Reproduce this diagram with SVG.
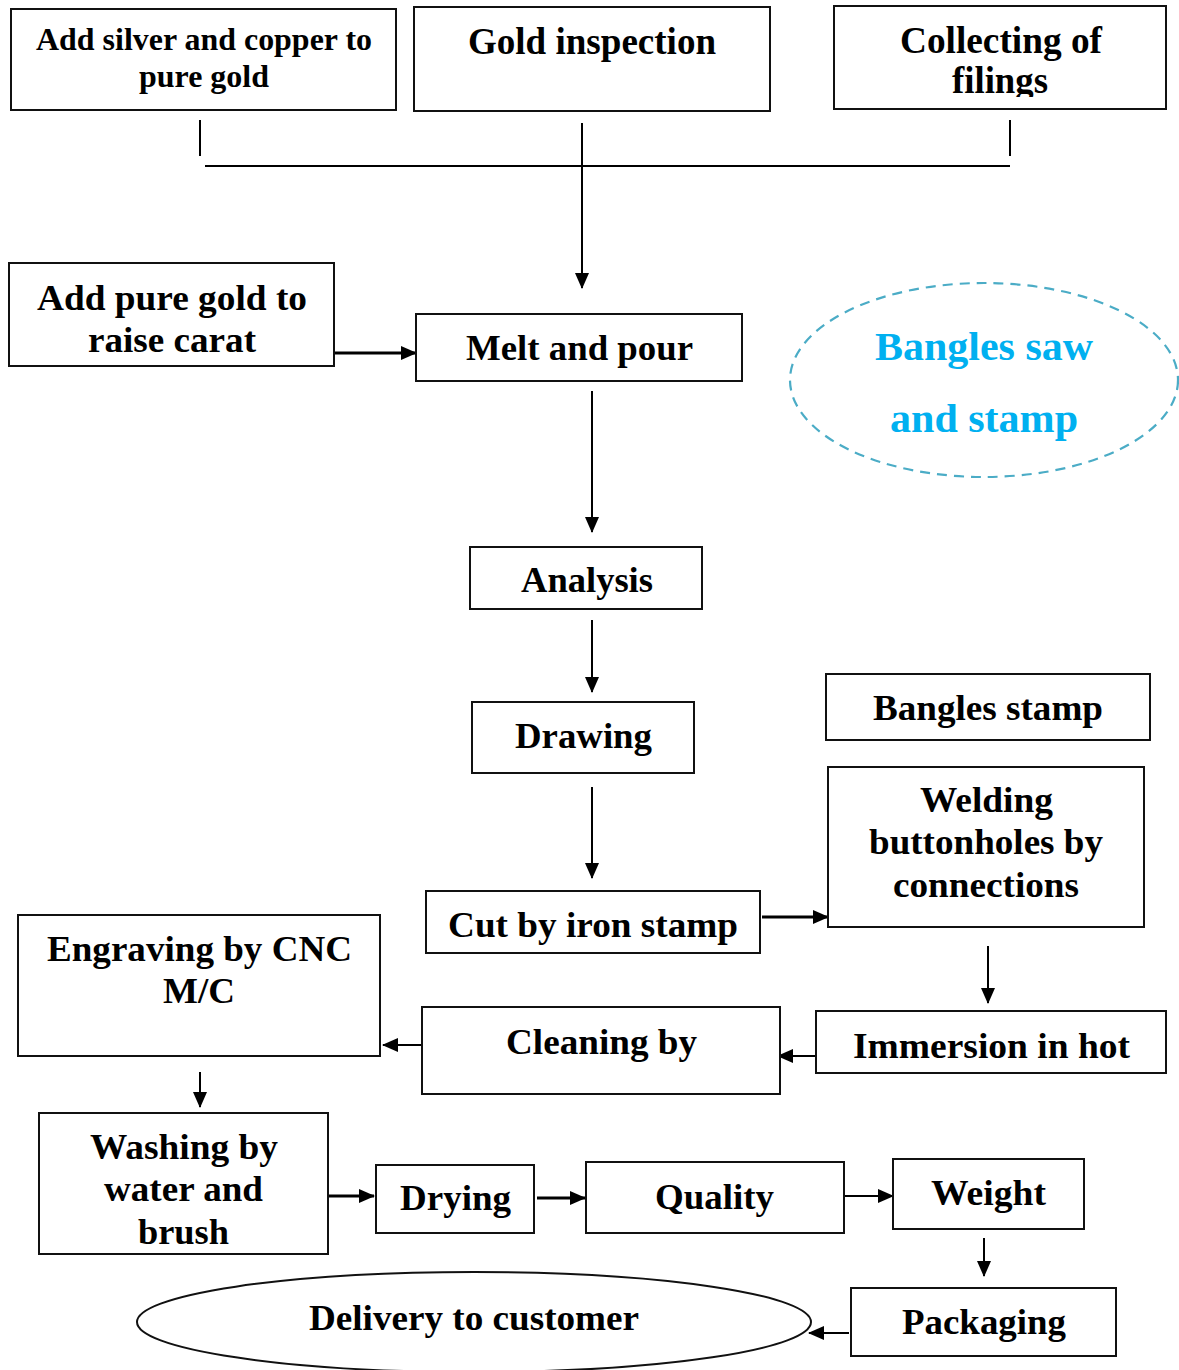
<svg xmlns="http://www.w3.org/2000/svg" width="1179" height="1370" viewBox="0 0 1179 1370">
<style>
.box{fill:#fff;stroke:#111;stroke-width:2}
.t{font-family:"Liberation Serif","Times New Roman",serif;font-weight:bold;font-size:35px;fill:#000}
.c{stroke:#000;stroke-width:2;fill:none}
.k{stroke-width:3}
.blue{fill:#00B0F0;font-size:41px}
</style>
<defs>
<marker id="ah" markerUnits="userSpaceOnUse" markerWidth="16" markerHeight="14" refX="15" refY="7" orient="auto">
<path d="M0,0 L16,7 L0,14 Z" fill="#000"/>
</marker>
<clipPath id="clipColl"><rect x="834" y="6" width="332" height="91"/></clipPath>
<clipPath id="clipWash"><rect x="39" y="1113" width="289" height="131"/></clipPath>
</defs>
<rect width="1179" height="1370" fill="#fff"/>

<g id="connectors">
<line class="c" x1="200" y1="120" x2="200" y2="156"/>
<line class="c" x1="1010" y1="120" x2="1010" y2="156"/>
<line class="c" x1="205" y1="166" x2="1010" y2="166"/>
<line class="c" x1="582" y1="123" x2="582" y2="288" marker-end="url(#ah)"/>
<line class="c k" x1="334" y1="353" x2="416" y2="353" marker-end="url(#ah)"/>
<line class="c" x1="592" y1="391" x2="592" y2="532" marker-end="url(#ah)"/>
<line class="c" x1="592" y1="620" x2="592" y2="692" marker-end="url(#ah)"/>
<line class="c" x1="592" y1="787" x2="592" y2="878" marker-end="url(#ah)"/>
<line class="c k" x1="762" y1="917" x2="828" y2="917" marker-end="url(#ah)"/>
<line class="c" x1="988" y1="946" x2="988" y2="1003" marker-end="url(#ah)"/>
<line class="c" x1="816" y1="1056" x2="778" y2="1056" marker-end="url(#ah)"/>
<line class="c" x1="422" y1="1045" x2="383" y2="1045" marker-end="url(#ah)"/>
<line class="c" x1="200" y1="1072" x2="200" y2="1107" marker-end="url(#ah)"/>
<line class="c k" x1="325" y1="1196" x2="374" y2="1196" marker-end="url(#ah)"/>
<line class="c k" x1="537" y1="1198" x2="585" y2="1198" marker-end="url(#ah)"/>
<line class="c" x1="845" y1="1196" x2="893" y2="1196" marker-end="url(#ah)"/>
<line class="c" x1="984" y1="1238" x2="984" y2="1276" marker-end="url(#ah)"/>
<line class="c" x1="849" y1="1333" x2="809" y2="1333" marker-end="url(#ah)"/>
</g>

<g id="n-add-silver">
<rect class="box" x="11" y="9" width="385" height="101"/>
<text class="t" x="36" y="50" style="font-size:31px" textLength="336" lengthAdjust="spacingAndGlyphs">Add silver and copper to</text>
<text class="t" x="139" y="87" style="font-size:31px" textLength="130" lengthAdjust="spacingAndGlyphs">pure gold</text>
</g>

<g id="n-gold-inspection">
<rect class="box" x="414" y="7" width="356" height="104"/>
<text class="t" x="468" y="54" style="font-size:37px" textLength="248" lengthAdjust="spacingAndGlyphs">Gold inspection</text>
</g>

<g id="n-collecting">
<rect class="box" x="834" y="6" width="332" height="103"/>
<g clip-path="url(#clipColl)">
<text class="t" x="900" y="53" style="font-size:37px" textLength="202" lengthAdjust="spacingAndGlyphs">Collecting of</text>
<text class="t" x="952" y="93" style="font-size:37px" textLength="96" lengthAdjust="spacingAndGlyphs">filings</text>
</g>
</g>

<g id="n-add-pure">
<rect class="box" x="9" y="263" width="325" height="103"/>
<text class="t" x="37" y="310" textLength="270" lengthAdjust="spacingAndGlyphs">Add pure gold to</text>
<text class="t" x="88" y="352" textLength="168" lengthAdjust="spacingAndGlyphs">raise carat</text>
</g>

<g id="n-melt">
<rect class="box" x="416" y="314" width="326" height="67"/>
<text class="t" x="466" y="360" textLength="227" lengthAdjust="spacingAndGlyphs">Melt and pour</text>
</g>

<g id="n-bangles-saw">
<ellipse cx="984" cy="380" rx="194" ry="97" fill="none" stroke="#4BACC6" stroke-width="2.2" stroke-dasharray="10,7"/>
<text class="t blue" x="875" y="360" textLength="218" lengthAdjust="spacingAndGlyphs">Bangles saw</text>
<text class="t blue" x="890" y="432" textLength="188" lengthAdjust="spacingAndGlyphs">and stamp</text>
</g>

<g id="n-analysis">
<rect class="box" x="470" y="547" width="232" height="62"/>
<text class="t" x="521" y="592" textLength="132" lengthAdjust="spacingAndGlyphs">Analysis</text>
</g>

<g id="n-drawing">
<rect class="box" x="472" y="702" width="222" height="71"/>
<text class="t" x="515" y="748" textLength="137" lengthAdjust="spacingAndGlyphs">Drawing</text>
</g>

<g id="n-bangles-stamp">
<rect class="box" x="826" y="674" width="324" height="66"/>
<text class="t" x="873" y="720" textLength="230" lengthAdjust="spacingAndGlyphs">Bangles stamp</text>
</g>

<g id="n-welding">
<rect class="box" x="828" y="767" width="316" height="160"/>
<text class="t" x="920" y="812" textLength="133" lengthAdjust="spacingAndGlyphs">Welding</text>
<text class="t" x="869" y="854" textLength="234" lengthAdjust="spacingAndGlyphs">buttonholes by</text>
<text class="t" x="893" y="897" textLength="186" lengthAdjust="spacingAndGlyphs">connections</text>
</g>

<g id="n-cut">
<rect class="box" x="426" y="891" width="334" height="62"/>
<text class="t" x="448" y="937" textLength="290" lengthAdjust="spacingAndGlyphs">Cut by iron stamp</text>
</g>

<g id="n-immersion">
<rect class="box" x="816" y="1011" width="350" height="62"/>
<text class="t" x="853" y="1058" textLength="277" lengthAdjust="spacingAndGlyphs">Immersion in hot</text>
</g>

<g id="n-cleaning">
<rect class="box" x="422" y="1007" width="358" height="87"/>
<text class="t" x="506" y="1054" textLength="191" lengthAdjust="spacingAndGlyphs">Cleaning by</text>
</g>

<g id="n-engraving">
<rect class="box" x="18" y="915" width="362" height="141"/>
<text class="t" x="47" y="961" textLength="305" lengthAdjust="spacingAndGlyphs">Engraving by CNC</text>
<text class="t" x="163" y="1003" textLength="72" lengthAdjust="spacingAndGlyphs">M/C</text>
</g>

<g id="n-washing">
<rect class="box" x="39" y="1113" width="289" height="141"/>
<g clip-path="url(#clipWash)">
<text class="t" x="90" y="1159" textLength="188" lengthAdjust="spacingAndGlyphs">Washing by</text>
<text class="t" x="104" y="1201" textLength="159" lengthAdjust="spacingAndGlyphs">water and</text>
<text class="t" x="138" y="1244" textLength="91" lengthAdjust="spacingAndGlyphs">brush</text>
</g>
</g>

<g id="n-drying">
<rect class="box" x="376" y="1165" width="158" height="68"/>
<text class="t" x="400" y="1210" textLength="111" lengthAdjust="spacingAndGlyphs">Drying</text>
</g>

<g id="n-quality">
<rect class="box" x="586" y="1162" width="258" height="71"/>
<text class="t" x="655" y="1209" textLength="119" lengthAdjust="spacingAndGlyphs">Quality</text>
</g>

<g id="n-weight">
<rect class="box" x="893" y="1159" width="191" height="70"/>
<text class="t" x="931" y="1205" textLength="115" lengthAdjust="spacingAndGlyphs">Weight</text>
</g>

<g id="n-packaging">
<rect class="box" x="851" y="1288" width="265" height="68"/>
<text class="t" x="902" y="1334" textLength="164" lengthAdjust="spacingAndGlyphs">Packaging</text>
</g>

<g id="n-delivery">
<ellipse cx="474" cy="1322" rx="337" ry="50" fill="#fff" stroke="#111" stroke-width="2"/>
<text class="t" x="309" y="1330" textLength="330" lengthAdjust="spacingAndGlyphs">Delivery to customer</text>
</g>
</svg>
